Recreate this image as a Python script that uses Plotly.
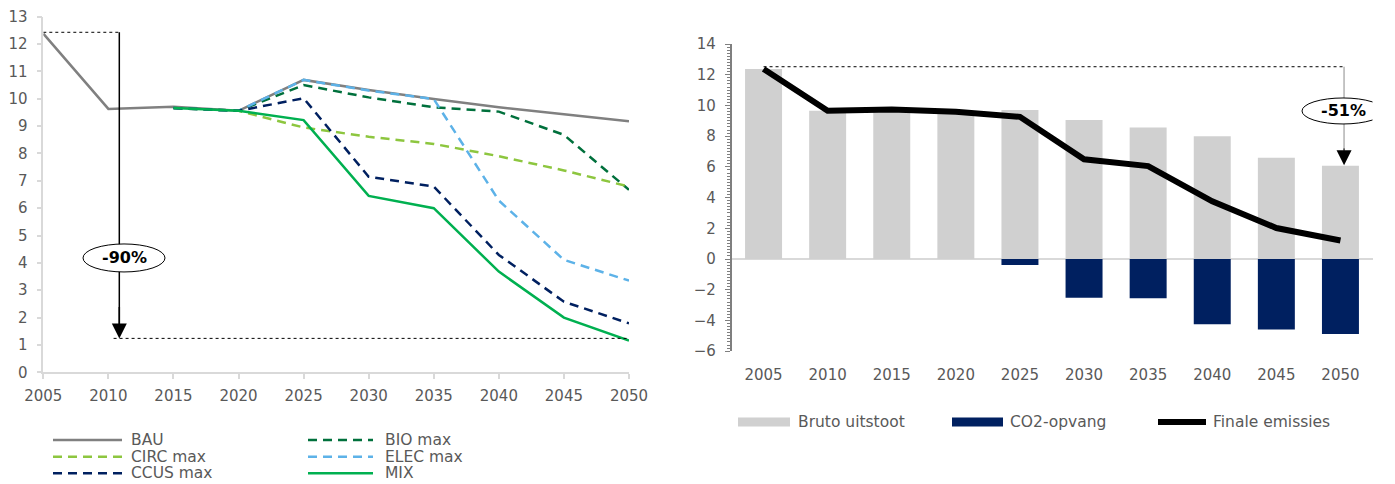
import plotly.graph_objects as go

# ---------------- data: left chart (scenarios) ----------------
years_all = [2005, 2010, 2015, 2020, 2025, 2030, 2035, 2040, 2045, 2050]
years_scen = [2015, 2020, 2025, 2030, 2035, 2040, 2045, 2050]

bau = [12.38, 9.63, 9.71, 9.56, 10.69, 10.32, 9.99, 9.69, 9.43, 9.18]
bio_max = [9.66, 9.56, 10.50, 10.05, 9.69, 9.53, 8.68, 6.67]
circ_max = [9.66, 9.56, 8.95, 8.61, 8.35, 7.90, 7.38, 6.79]
elec_max = [9.66, 9.56, 10.69, 10.30, 9.99, 6.28, 4.11, 3.35]
ccus_max = [9.66, 9.56, 10.02, 7.15, 6.79, 4.29, 2.58, 1.79]
mix = [9.66, 9.56, 9.22, 6.45, 6.00, 3.68, 2.00, 1.16]

left_ref_top = 12.43
left_ref_bottom = 1.24
left_label = "-90%"

# ---------------- data: right chart ----------------
years_right = [2005, 2010, 2015, 2020, 2025, 2030, 2035, 2040, 2045, 2050]
bruto_uitstoot = [12.37, 9.66, 9.72, 9.60, 9.70, 9.05, 8.57, 8.00, 6.60, 6.07]
co2_opvang = [0, 0, 0, 0, -0.39, -2.52, -2.56, -4.25, -4.58, -4.88]
finale_emissies = [12.37, 9.66, 9.74, 9.59, 9.26, 6.49, 6.05, 3.76, 2.02, 1.21]

right_ref_top = 12.52
right_label = "-51%"

# page is 1395x484; the figure sits 8px in from the page corner (body margin)
OFF = 8
W, H = 1395 - 2 * OFF, 484 - OFF
TXT = "#595959"
FONT = "DejaVu Sans, Verdana, sans-serif"


def px(x):
    return (x - OFF) / W


def py(y):
    return 1 - (y - OFF) / H


fig = go.Figure()

DASH = "9px,6px"
series = [
    ("BAU", years_all, bau, "#808080", "solid"),
    ("BIO max", years_scen, bio_max, "#00703C", DASH),
    ("CIRC max", years_scen, circ_max, "#8DC63F", DASH),
    ("ELEC max", years_scen, elec_max, "#5DB2E8", DASH),
    ("CCUS max", years_scen, ccus_max, "#002060", DASH),
    ("MIX", years_scen, mix, "#00B050", "solid"),
]
for name, xs, ys, col, dash in series:
    fig.add_trace(go.Scatter(x=xs, y=ys, name=name, mode="lines",
                             line=dict(color=col, width=2.5, dash=dash),
                             xaxis="x", yaxis="y", showlegend=False))

bar_w = 2.885
fig.add_trace(go.Bar(x=years_right, y=bruto_uitstoot, name="Bruto uitstoot",
                     marker=dict(color="#D0D0D0", line=dict(width=0)),
                     width=bar_w, xaxis="x2", yaxis="y2", showlegend=False))
fig.add_trace(go.Bar(x=years_right, y=co2_opvang, name="CO2-opvang",
                     marker=dict(color="#002060", line=dict(width=0)),
                     width=bar_w, xaxis="x2", yaxis="y2", showlegend=False))
fig.add_trace(go.Scatter(x=years_right, y=finale_emissies, name="Finale emissies",
                         mode="lines", line=dict(color="black", width=6),
                         xaxis="x2", yaxis="y2", showlegend=False))

tickfont = dict(family=FONT, size=15, color=TXT)

fig.update_layout(
    width=W, height=H,
    margin=dict(l=0, r=0, t=0, b=0),
    paper_bgcolor="white", plot_bgcolor="white",
    barmode="relative",
    showlegend=False,
    xaxis=dict(domain=[px(43.3), px(629)], range=[2005, 2050], tickmode="linear",
               tick0=2005, dtick=5, showgrid=False, zeroline=False,
               showline=True, linecolor="#D9D9D9", linewidth=1.5,
               ticks="outside", ticklen=5, tickcolor="#D9D9D9", tickwidth=1.5,
               tickfont=tickfont, ticklabelstandoff=4, anchor="y",
               automargin=False, ticklabeloverflow="allow"),
    yaxis=dict(domain=[py(372.3), py(16.7)], range=[0, 13], tickmode="linear",
               tick0=0, dtick=1, showgrid=False, zeroline=False,
               showline=True, linecolor="#D9D9D9", linewidth=1.5,
               ticks="outside", ticklen=5, tickcolor="#D9D9D9", tickwidth=1.5,
               tickfont=tickfont, ticklabelstandoff=6, anchor="x",
               automargin=False, ticklabeloverflow="allow"),
    xaxis2=dict(domain=[px(731.5), px(1372.5)], range=[2002.5, 2052.5],
                tickmode="linear", tick0=2005, dtick=5, showgrid=False,
                zeroline=False, showline=False, ticks="",
                tickfont=tickfont, ticklabelstandoff=13, anchor="y2",
                automargin=False, ticklabeloverflow="allow"),
    yaxis2=dict(domain=[py(351.2), py(44)], range=[-6, 14], tickmode="linear",
                tick0=0, dtick=2, showgrid=False, zeroline=True,
                zerolinecolor="#D9D9D9", zerolinewidth=2,
                showline=True, linecolor="#7F7F7F", linewidth=1.5,
                ticks="outside", ticklen=5, tickcolor="#7F7F7F", tickwidth=1,
                minor=dict(dtick=0.2, ticks="outside", ticklen=3,
                           tickcolor="#7F7F7F", tickwidth=1, showgrid=False),
                tickfont=tickfont, ticklabelstandoff=6, anchor="x2",
                automargin=False, ticklabeloverflow="allow"),
)

shapes = []
annotations = []

# ---- left annotations ----
arrow_x_l = 2010.84
shapes.append(dict(type="line", xref="x", yref="y", x0=2005, x1=arrow_x_l,
                   y0=left_ref_top, y1=left_ref_top,
                   line=dict(color="black", width=1, dash="dot")))
shapes.append(dict(type="line", xref="x", yref="y", x0=2010.4, x1=2050,
                   y0=left_ref_bottom, y1=left_ref_bottom,
                   line=dict(color="black", width=1, dash="dot")))
shapes.append(dict(type="line", xref="x", yref="y", x0=arrow_x_l, x1=arrow_x_l,
                   y0=left_ref_top, y1=left_ref_bottom + 0.5,
                   line=dict(color="black", width=1.5)))
shapes.append(dict(type="circle", xref="x", yref="y", xsizemode="pixel",
                   ysizemode="pixel", xanchor=2011.2, yanchor=4.18,
                   x0=-41, x1=41, y0=-14, y1=14, fillcolor="white",
                   line=dict(color="black", width=1)))
annotations.append(dict(xref="x", yref="y", x=arrow_x_l, y=left_ref_bottom,
                        axref="x", ayref="y", ax=arrow_x_l, ay=left_ref_bottom + 1.2,
                        text="", showarrow=True, arrowhead=2, arrowsize=2,
                        arrowwidth=1.5, arrowcolor="black"))
annotations.append(dict(xref="x", yref="y", x=2011.2, y=4.18, showarrow=False,
                        text="<b>" + left_label + "</b>",
                        font=dict(family=FONT, size=16, color="black")))

# ---- right annotations ----
arrow_x_r = 2050.28
shapes.append(dict(type="line", xref="x2", yref="y2", x0=2005, x1=2050.35,
                   y0=right_ref_top, y1=right_ref_top,
                   line=dict(color="black", width=1, dash="dot")))
shapes.append(dict(type="line", xref="x2", yref="y2", x0=arrow_x_r, x1=arrow_x_r,
                   y0=right_ref_top, y1=7.1,
                   line=dict(color="#8C8C8C", width=1)))
shapes.append(dict(type="circle", xref="x2", yref="y2", xsizemode="pixel",
                   ysizemode="pixel", xanchor=2050.2, yanchor=9.64,
                   x0=-41, x1=41, y0=-13, y1=13, fillcolor="white",
                   line=dict(color="black", width=1)))
annotations.append(dict(xref="x2", yref="y2", x=arrow_x_r, y=6.1,
                        axref="x2", ayref="y2", ax=arrow_x_r, ay=7.3,
                        text="", showarrow=True, arrowhead=2, arrowsize=3,
                        arrowwidth=1, arrowcolor="black"))
annotations.append(dict(xref="x2", yref="y2", x=2050.2, y=9.64, showarrow=False,
                        text="<b>" + right_label + "</b>",
                        font=dict(family=FONT, size=16, color="black")))

# ---- legends (drawn manually) ----
leg_font = dict(family=FONT, size=15.5, color=TXT)
left_leg = [
    ("BAU", 53, 122, 130, 440),
    ("BIO max", 308, 373, 384, 440),
    ("CIRC max", 53, 122, 130, 456.7),
    ("ELEC max", 308, 373, 384, 456.7),
    ("CCUS max", 53, 122, 130, 473.3),
    ("MIX", 308, 373, 384, 473.3),
]
style = {name: (col, dash) for name, _, _, col, dash in series}
for name, x0, x1, xt, yy in left_leg:
    col, dash = style[name]
    shapes.append(dict(type="line", xref="paper", yref="paper",
                       x0=px(x0), x1=px(x1), y0=py(yy), y1=py(yy),
                       line=dict(color=col, width=2.5, dash=dash)))
    annotations.append(dict(xref="paper", yref="paper", x=px(xt), y=py(yy),
                            xanchor="left", yanchor="middle", showarrow=False,
                            text=name, font=leg_font, borderpad=0))

ry = 422
shapes.append(dict(type="rect", xref="paper", yref="paper", x0=px(738), x1=px(790),
                   y0=py(ry + 4.5), y1=py(ry - 4.5), fillcolor="#D0D0D0",
                   line=dict(width=0)))
annotations.append(dict(xref="paper", yref="paper", x=px(796), y=py(ry),
                        xanchor="left", yanchor="middle", showarrow=False,
                        text="Bruto uitstoot", font=leg_font))
shapes.append(dict(type="rect", xref="paper", yref="paper", x0=px(952), x1=px(1003),
                   y0=py(ry + 4.5), y1=py(ry - 4.5), fillcolor="#002060",
                   line=dict(width=0)))
annotations.append(dict(xref="paper", yref="paper", x=px(1008), y=py(ry),
                        xanchor="left", yanchor="middle", showarrow=False,
                        text="CO2-opvang", font=leg_font))
shapes.append(dict(type="line", xref="paper", yref="paper", x0=px(1158), x1=px(1206),
                   y0=py(ry), y1=py(ry), line=dict(color="black", width=6)))
annotations.append(dict(xref="paper", yref="paper", x=px(1211), y=py(ry),
                        xanchor="left", yanchor="middle", showarrow=False,
                        text="Finale emissies", font=leg_font))

fig.update_layout(shapes=shapes, annotations=annotations)
fig.write_html("out.html")
